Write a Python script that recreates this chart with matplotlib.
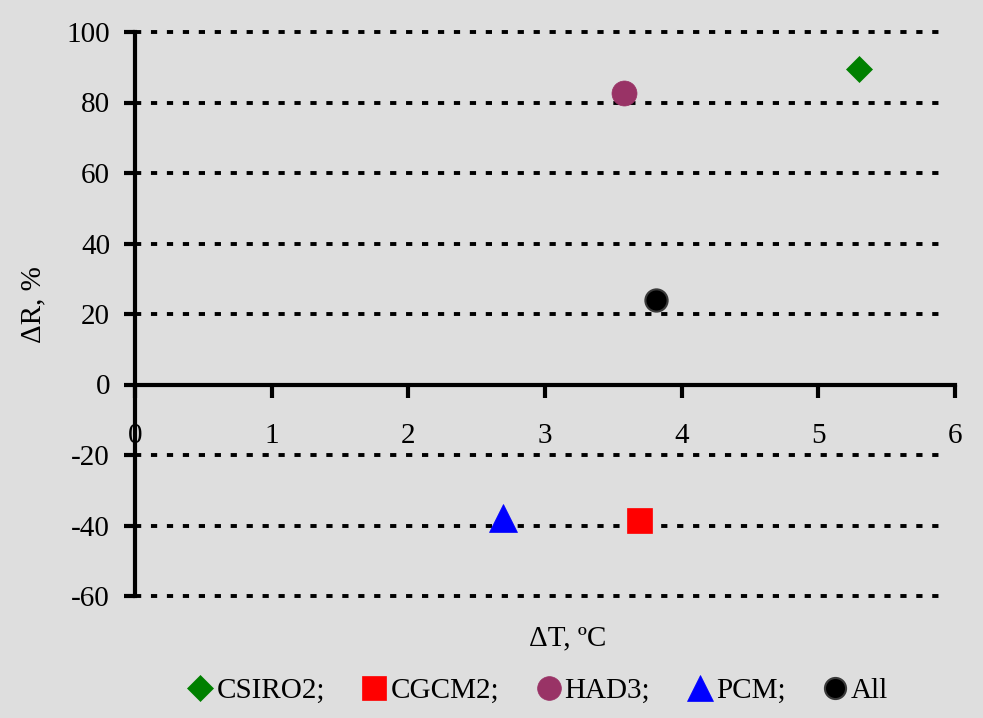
import numpy as np
import matplotlib.pyplot as plt
from matplotlib.lines import Line2D

plt.rcParams['font.family'] = ['Liberation Serif', 'DejaVu Serif']
plt.rcParams['axes.unicode_minus'] = False

models = ['CSIRO2;', 'CGCM2;', 'HAD3;', 'PCM;', 'All']
dT = [5.30, 3.69, 3.58, 2.69, 3.81]
dR = [89.5, -38.5, 82.7, -37.8, 24.1]
markers = ['D', 's', 'o', '^', 'o']
colors = ['#008000', '#ff0000', '#993366', '#0000ff', '#000000']
edges = ['#008000', '#ff0000', '#993366', '#0000ff', '#3a3a3a']
sizes = [13.5, 18, 18, 19.5, 16]

yticks = [-60, -40, -20, 0, 20, 40, 60, 80, 100]
xticks = [0, 1, 2, 3, 4, 5, 6]

fs = 21
bg = '#dedede'
fig = plt.figure(figsize=(9.83, 7.18), dpi=100, facecolor=bg)
ax = fig.add_axes([135/983, 1-596/718, 820/983, 564/718])
ax.set_facecolor(bg)

# dotted grid lines
for y in yticks:
    if y != 0:
        ax.plot([0, 5.95], [y, y], color='black', lw=2.8,
                linestyle=(0, (1.6, 2.5)), zorder=1, clip_on=False)

for i in range(len(models)):
    ax.plot(dT[i], dR[i], linestyle='none', marker=markers[i], ms=sizes[i],
            color=colors[i], mec=edges[i], mew=1.5 if i == 4 else 0.5,
            zorder=3, clip_on=False)

ax.set_xlim(0, 6)
ax.set_ylim(-60, 100)
ax.spines['top'].set_visible(False)
ax.spines['right'].set_visible(False)
ax.spines['left'].set_position(('data', 0))
ax.spines['bottom'].set_position(('data', 0))
ax.spines['left'].set_linewidth(3)
ax.spines['bottom'].set_linewidth(3)
ax.set_xticks(xticks)
ax.set_yticks(yticks)
ax.tick_params(axis='x', direction='out', length=9, width=3, pad=19, labelsize=fs)
ax.tick_params(axis='y', direction='out', length=8, width=3, pad=10, labelsize=fs)

fig.text(568/983, 1-638/718, 'ΔT, ºC', ha='center', va='center', fontsize=fs)
fig.text(33/983, 1-305/718, 'ΔR, %', ha='center', va='center', rotation=90, fontsize=fs)

handles = [Line2D([], [], linestyle='none', marker=markers[i], color=colors[i],
                  mec=edges[i], ms=sizes[i] * 0.95, mew=1.5 if i == 4 else 0.5)
           for i in range(len(models))]
fig.legend(handles, models, loc='center', bbox_to_anchor=(537/983, 1-691/718),
           ncol=5, frameon=False, fontsize=fs, handletextpad=0.05,
           columnspacing=1.2, handlelength=1.0)

fig.savefig('out.png', dpi=100, facecolor=bg)
